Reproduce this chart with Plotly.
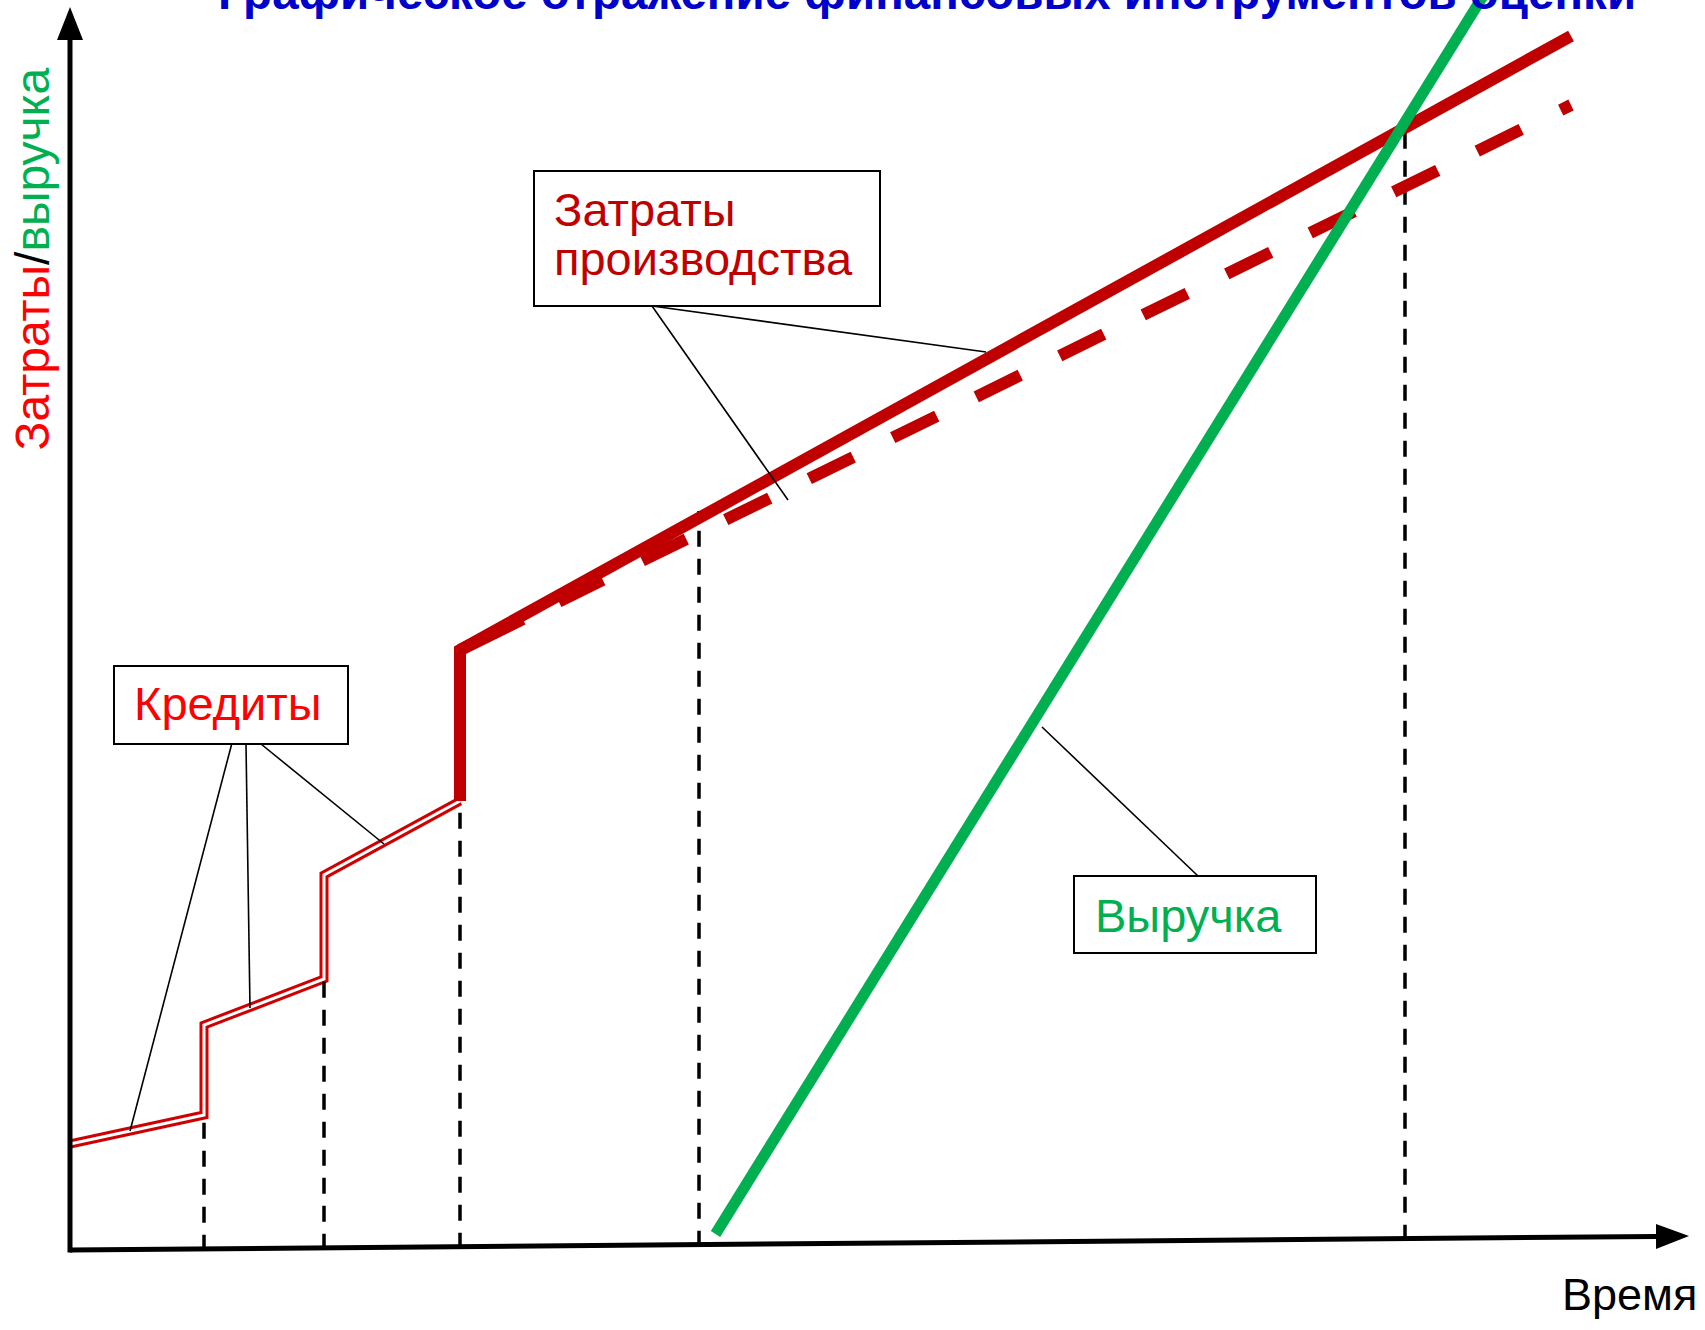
import plotly.graph_objects as go

W, H = 1705, 1330
FONT = "Liberation Sans, Arial, sans-serif"

# ---- data (abstract units: time on x, value on y) ----
credit_t = [0.0, 13.4, 13.4, 25.4, 25.4, 39.0]
credit_v = [10.6, 13.5, 22.5, 27.1, 37.5, 44.9]
cost_t = [39.0, 39.0, 150.1]
cost_v = [44.9, 60.0, 121.4]
plan_t = [39.0, 150.1]
plan_v = [60.0, 114.5]
revenue_t = [64.55, 142.3]
revenue_v = [1.6, 127.0]
marker_t = [13.4, 25.4, 39.0, 62.9, 133.5]
marker_top = [13.5, 27.1, 44.9, 73.9, 112.5]

title = "Графическое отражение финансовых инструментов оценки"
x_label = "Время"
label_credit = "Кредиты"
label_cost = ["Затраты", "производства"]
label_revenue = "Выручка"

# ---- axis geometry (data units) ----
X_AXIS_END = (158.6, 1.35)
X_AXIS_TIP = (161.9, 1.4)
Y_AXIS_END = 121.0
Y_AXIS_TIP = 124.3
axis_slope = X_AXIS_END[1] / X_AXIS_END[0]

RED_DARK = "#C00000"
RED = "#FF0000"
GREEN = "#00B050"

# dash style for the planned-cost line: longer first dash, then regular pattern
PLAN_DASH = ",".join(["70px", "40px"] + ["49px", "44px"] * 14)

fig = go.Figure()

# credits: double line (red with white core)
fig.add_trace(go.Scatter(x=credit_t, y=credit_v, mode="lines",
                         line=dict(color="#D00000", width=9), hoverinfo="skip"))
fig.add_trace(go.Scatter(x=credit_t, y=credit_v, mode="lines",
                         line=dict(color="white", width=3), hoverinfo="skip"))

# dashed verticals (from axis upward)
for t, top in zip(marker_t, marker_top):
    fig.add_trace(go.Scatter(x=[t, t], y=[axis_slope * t - 0.2, top], mode="lines",
                             line=dict(color="black", width=3.5, dash="16px,12px"),
                             hoverinfo="skip"))

# planned costs (dashed)
fig.add_trace(go.Scatter(x=plan_t, y=plan_v, mode="lines",
                         line=dict(color=RED_DARK, width=12, dash=PLAN_DASH),
                         hoverinfo="skip"))
# production costs
fig.add_trace(go.Scatter(x=cost_t, y=cost_v, mode="lines",
                         line=dict(color=RED_DARK, width=12), hoverinfo="skip"))
# revenue
fig.add_trace(go.Scatter(x=revenue_t, y=revenue_v, mode="lines",
                         line=dict(color=GREEN, width=11), hoverinfo="skip"))

shapes = []
# axes
shapes.append(dict(type="line", xref="x", yref="y", x0=0, y0=0, x1=X_AXIS_END[0], y1=X_AXIS_END[1],
                   line=dict(color="black", width=5)))
shapes.append(dict(type="line", xref="x", yref="y", x0=0, y0=-0.25, x1=0, y1=Y_AXIS_END,
                   line=dict(color="black", width=5)))
tx, ty = X_AXIS_TIP
bx, by = X_AXIS_END
shapes.append(dict(type="path", xref="x", yref="y",
                   path=f"M {tx} {ty} L {bx} {by + 1.25} L {bx} {by - 1.25} Z",
                   fillcolor="black", line=dict(color="black", width=0)))
shapes.append(dict(type="path", xref="x", yref="y",
                   path=f"M 0 {Y_AXIS_TIP} L -1.3 {Y_AXIS_END} L 1.3 {Y_AXIS_END} Z",
                   fillcolor="black", line=dict(color="black", width=0)))


def P(px, py):
    return px / W, 1 - py / H


def box(x0, y0, x1, y1):
    a = P(x0, y0)
    b = P(x1, y1)
    shapes.append(dict(type="rect", xref="paper", yref="paper", x0=a[0], y0=b[1], x1=b[0], y1=a[1],
                       line=dict(color="black", width=2), fillcolor="white", layer="above"))


def leader(x0, y0, x1, y1):
    a = P(x0, y0)
    b = P(x1, y1)
    shapes.append(dict(type="line", xref="paper", yref="paper", x0=a[0], y0=a[1], x1=b[0], y1=b[1],
                       line=dict(color="black", width=1.6), layer="above"))


box(114, 666, 348, 744)
box(534, 171, 880, 306)
box(1074, 876, 1316, 953)
leader(231.7, 744, 130, 1131)
leader(246, 744, 250, 1008)
leader(261, 744, 384, 844)
leader(652, 306, 986, 352)
leader(652, 306, 788, 500)
leader(1198, 876, 1042, 727)

annotations = []


def text(s, px, py, size, color, xanchor="center", angle=0, bold=False):
    x, y = P(px, py)
    annotations.append(dict(text=(f"<b>{s}</b>" if bold else s), x=x, y=y, xref="paper", yref="paper",
                            xanchor=xanchor, yanchor="middle", showarrow=False, textangle=angle,
                            borderpad=0, font=dict(family=FONT, size=size, color=color)))


text(title, 927, -7, 47.5, "#0000CC", bold=True)
text(f'<span style="color:{RED}">Затраты</span><span style="color:black">/</span>'
     f'<span style="color:{GREEN}">выручка</span>', 33.4, 259, 48, "black", angle=-90)
text(x_label, 1629, 1294, 45, "black")
text(label_credit, 228.5, 704, 47, RED)
text(label_cost[0], 553, 209, 47, RED_DARK, xanchor="left")
text(label_cost[1], 553, 259, 47, RED_DARK, xanchor="left")
text(label_revenue, 1188, 915, 47, GREEN)

fig.update_layout(
    width=W, height=H,
    margin=dict(l=0, r=0, t=0, b=0),
    paper_bgcolor="white", plot_bgcolor="white",
    showlegend=False,
    xaxis=dict(range=[-7, 163.5], visible=False, fixedrange=True),
    yaxis=dict(range=[-8, 125], visible=False, fixedrange=True),
    shapes=shapes, annotations=annotations,
)

fig.write_html("out.html", config={"displayModeBar": False},
               post_script="document.body.style.margin='0';document.body.style.overflow='hidden';")
